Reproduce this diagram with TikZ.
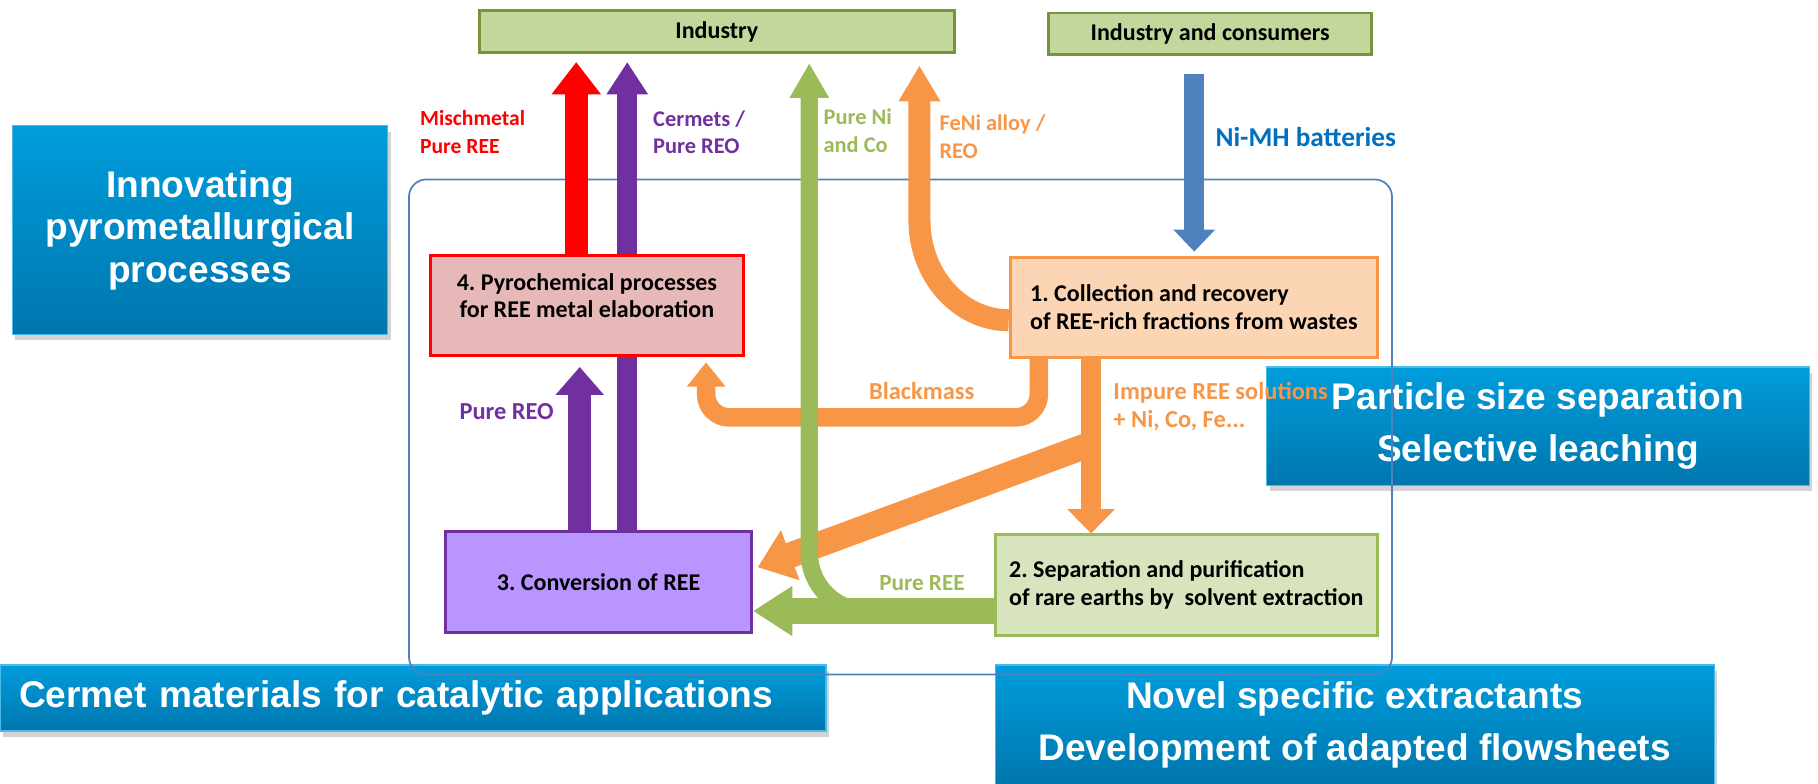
\documentclass[tikz,border=0pt]{standalone}
\usepackage{fontspec}
\newfontfamily\flowfont{Carlito}
\newfontfamily\bluefont{Liberation Sans}
\definecolor{indfill}{RGB}{195,214,155}
\definecolor{indline}{RGB}{119,147,60}
\definecolor{pyrofill}{RGB}{230,185,184}
\definecolor{mixred}{RGB}{255,0,0}
\definecolor{collfill}{RGB}{252,213,181}
\definecolor{oxorange}{RGB}{247,150,70}
\definecolor{convfill}{RGB}{185,150,255}
\definecolor{reepurple}{RGB}{112,48,160}
\definecolor{sepfill}{RGB}{215,228,189}
\definecolor{nigreen}{RGB}{155,187,89}
\definecolor{nimhblue}{RGB}{79,129,189}
\definecolor{textblue}{RGB}{0,112,192}
\definecolor{bluetop}{RGB}{0,157,220}
\definecolor{bluebot}{RGB}{0,118,173}
\usetikzlibrary{arrows.meta,positioning,shadows,calc}
\pgfdeclarelayer{bg}
\pgfdeclarelayer{flow}
\pgfsetlayers{bg,flow,main}
\frenchspacing
\newcommand{\boxtext}{\flowfont\bfseries\fontsize{11.8}{13.7}\selectfont}
\newcommand{\tagtext}[1]{\flowfont\bfseries\fontsize{#1}{13.7}\selectfont}

\begin{document}
\begin{tikzpicture}[x=0.02cm, y=-0.02cm,
    flowbox/.style={draw=#1, line width=0.05cm, anchor=north west, inner sep=0pt, font=\boxtext},
    bluebox/.style={anchor=north west, inner sep=0pt, top color=bluetop, bottom color=bluebot,
      draw=bluetop!70!white, line width=0.02cm, text=white, align=center,
      font=\bluefont\bfseries\fontsize{18.2}{25.6}\selectfont,
      drop shadow={opacity=0.35, shadow xshift=0.05cm, shadow yshift=-0.1cm}},
    tag/.style={anchor=west, inner sep=0pt, align=left, font=\tagtext{11}}]
  \useasboundingbox (0,0) rectangle (1568,676);

  % process boxes
  \node[flowbox=indline, fill=indfill, minimum width=8.2cm, minimum height=0.72cm] (industry) at (412,8) {Industry};
  \node[flowbox=indline, fill=indfill, minimum width=5.58cm, minimum height=0.72cm] (consumers) at (903,10) {Industry and consumers};
  \node[flowbox=mixred, fill=pyrofill, minimum width=5.4cm, minimum height=1.72cm, align=center] (pyro) at (370,219)
    {4. Pyrochemical processes\\for REE metal elaboration\\[-0.15cm]};
  \node[flowbox=oxorange, fill=collfill, minimum width=6.34cm, minimum height=1.72cm, align=left] (collect) at (870,221)
    {1. Collection and recovery\\of REE-rich fractions from wastes};
  \node[flowbox=reepurple, fill=convfill, minimum width=5.28cm, minimum height=1.74cm] (convert) at (383,457) {3. Conversion of REE};
  \node[flowbox=nigreen, fill=sepfill, minimum width=6.6cm, minimum height=1.74cm, align=left] (separ) at (857,460)
    {2. Separation and purification\\of rare earths by~ solvent extraction};

  % arrow columns and rows
  \coordinate (redx) at (497,0);
  \coordinate (cermx) at (541,0);
  \coordinate (reox) at (500,0);
  \coordinate (nix) at (698,0);
  \coordinate (fenix) at (793,0);
  \coordinate (fenibend) at (793,190);
  \coordinate (nimhx) at (1030,0);
  \coordinate (blackx) at (896,0);
  \coordinate (blackl) at (609,0);
  \coordinate (blacky) at (0,360);
  \coordinate (impx) at (941,0);
  \coordinate (split) at (941,383);
  \coordinate (reey) at (0,527);

  \begin{pgfonlayer}{flow}
    \draw[mixred, line width=0.4cm, -{Triangle[width=0.82cm,length=0.56cm]}, shorten >=0.14cm]
      (pyro.north -| redx) -- (industry.south -| redx);
    \draw[reepurple, line width=0.34cm, -{Triangle[width=0.68cm,length=0.56cm]}, shorten >=0.14cm]
      (convert.north -| cermx) -- (industry.south -| cermx);
    \draw[reepurple, line width=0.4cm, -{Triangle[width=0.8cm,length=0.48cm]}, shorten >=0.18cm]
      (convert.north -| reox) -- (pyro.south -| reox);
    % orange flows
    \draw[oxorange, line width=0.38cm, -{Triangle[width=0.68cm,length=0.62cm]}, shorten >=0.2cm]
      ([yshift=-0.22cm]collect.west) .. controls (827,276) and (793,237) .. (fenibend) -- (industry.south -| fenix);
    \draw[oxorange, line width=0.32cm, rounded corners=0.4cm, -{Triangle[width=0.64cm,length=0.42cm]}, shorten >=0.1cm]
      (collect.south -| blackx) -- (blackx |- blacky) -- (blackl |- blacky) -- (pyro.south -| blackl);
    \draw[oxorange, line width=0.36cm, -{Triangle[width=0.8cm,length=0.42cm]}]
      (collect.south -| impx) -- (separ.north -| impx);
    \draw[oxorange, line width=0.44cm, -{Triangle[width=0.88cm,length=0.6cm]}]
      (split) -- ([xshift=0.08cm,yshift=0.25cm]convert.east);
    \draw[nimhblue, line width=0.34cm, -{Triangle[width=0.7cm,length=0.38cm]}, shorten <=0.3cm, shorten >=0.08cm]
      (consumers.south -| nimhx) -- (collect.north -| nimhx);
    % green flows
    \draw[nigreen, line width=0.3cm, rounded corners=1cm, -{Triangle[width=0.64cm,length=0.6cm]}, shorten >=0.16cm]
      (separ.west |- reey) -- (nix |- reey) -- (industry.south -| nix);
    \draw[nigreen, line width=0.46cm, -{Triangle[width=0.82cm,length=0.68cm]}]
      (separ.west |- reey) -- (convert.east |- reey);
  \end{pgfonlayer}

  % flow labels
  \node[tag, text=mixred, font=\tagtext{10.6}] (mischlbl) at (362,114) {Mischmetal\\Pure REE};
  \node[tag, text=reepurple] (cermlbl) at (563,114) {Cermets /\\Pure REO};
  \node[tag, text=nigreen] (nilbl) at (710,113) {Pure Ni\\and Co};
  \node[tag, text=oxorange] (fenilbl) at (810,118) {FeNi alloy /\\REO};
  \node[tag, text=textblue, font=\tagtext{13.4}] (nimhlbl) at (1048,118) {Ni-MH batteries};
  \node[tag, text=reepurple, font=\tagtext{12}] (reolbl) at (396,355) {Pure REO};
  \node[tag, text=oxorange, anchor=center, font=\tagtext{12}] (blacklbl) at (795,337) {Blackmass};
  \node[tag, text=oxorange, font=\tagtext{12}] (impurelbl) at (960,351) {Impure REE solutions\\+ Ni, Co, Fe...};
  \node[tag, text=nigreen, font=\tagtext{11.4}] (reelbl) at (758,503) {Pure REE};

  % research topics
  \begin{pgfonlayer}{bg}
    \node[bluebox, minimum width=6.48cm, minimum height=3.6cm, font=\bluefont\bfseries\fontsize{18.2}{20.8}\selectfont] (innov) at (10,108)
      {Innovating\\pyrometallurgical\\processes};
    \node[bluebox, minimum width=9.36cm, minimum height=2.04cm] (particle) at (1092,316)
      {Particle size separation\\Selective leaching};
    \node[bluebox, minimum width=14.24cm, minimum height=1.14cm, text width=13.6cm, align=left] (cermet) at (0,573)
      {Cermet materials for catalytic applications};
    \node[bluebox, minimum width=12.4cm, minimum height=2.06cm] (novel) at (858,573)
      {Novel specific extractants\\Development of adapted flowsheets};
    \node[draw=nimhblue, line width=0.03cm, rounded corners=0.3cm, anchor=north west, inner sep=0pt,
      minimum width=16.96cm, minimum height=8.54cm] (frame) at (352,154) {};
  \end{pgfonlayer}
\end{tikzpicture}
\end{document}
